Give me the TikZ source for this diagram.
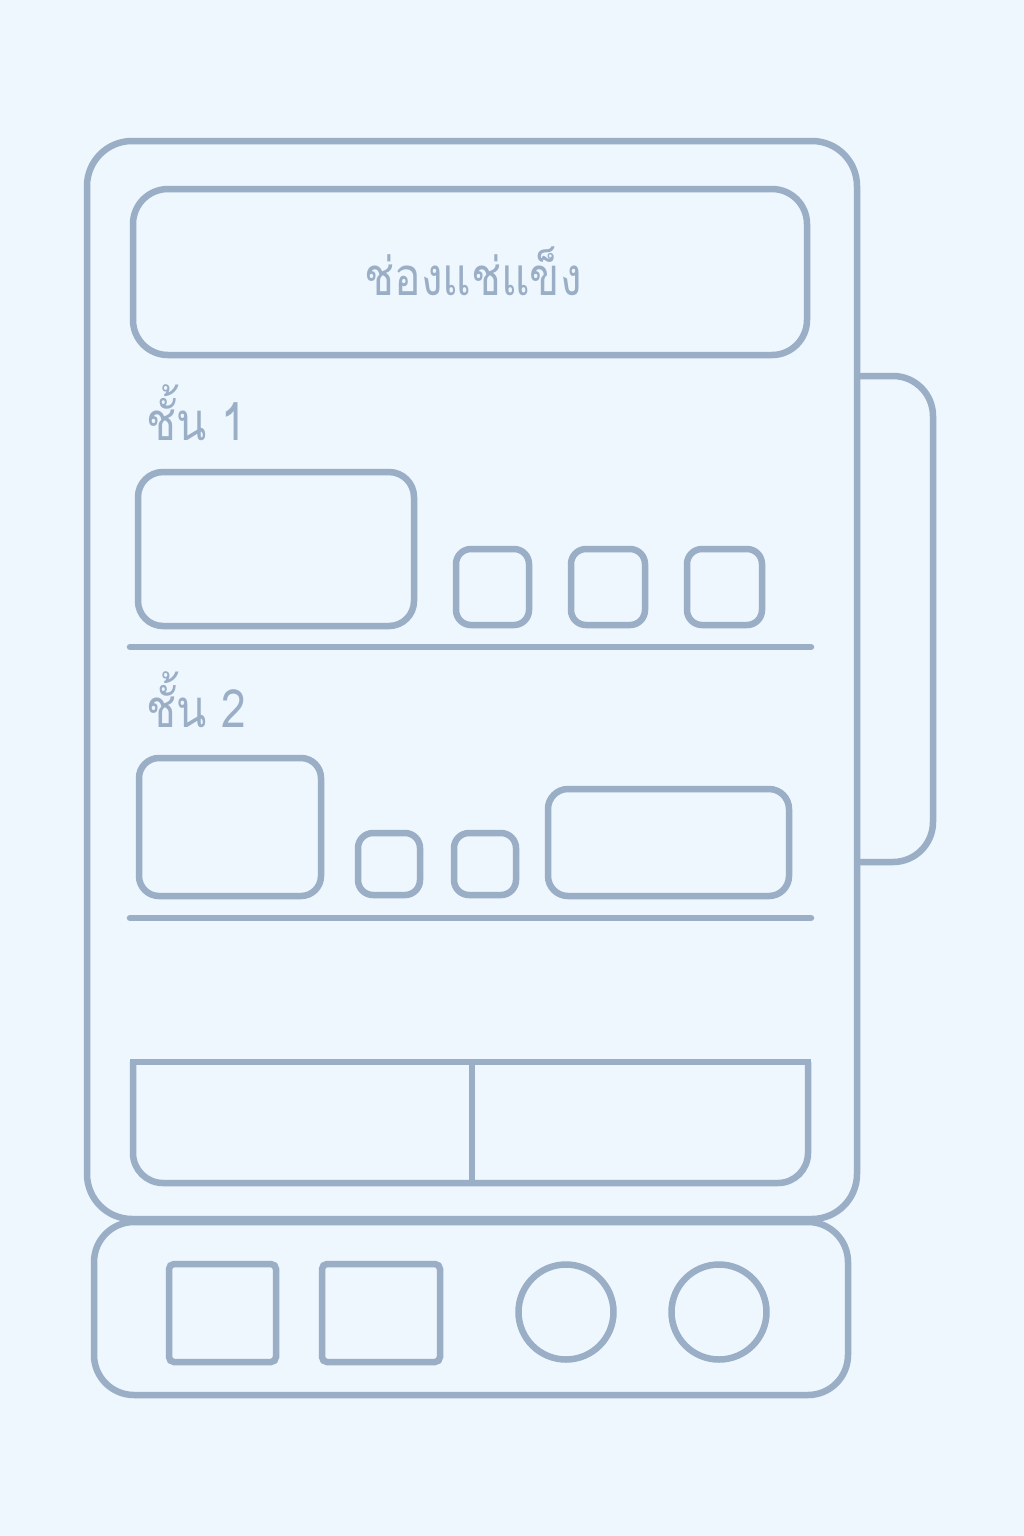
\documentclass[tikz,border=0pt]{standalone}
\usepackage{fontspec}
\newfontfamily\thaifont[Script=Thai]{Loma}
\definecolor{bgblue}{HTML}{EEF6FE}
\definecolor{edge}{HTML}{9AAEC6}

\begin{document}
\begin{tikzpicture}[x=0.1mm, y=-0.1mm, line width=0.65mm,
    part/.style={draw=edge, rounded corners=#1},
    part/.default=2mm,
    label/.style={text=edge, font=\thaifont\fontsize{15}{18}\selectfont, inner sep=0pt, xscale=0.84}]
        \fill[bgblue] (0,0) rectangle (1024,1536);
        % body, handle, base
        \draw[part=4mm] (94,1222) rectangle (848,1395);
        \draw[part=4.5mm] (87,141) rectangle (857,1219);
        \draw[part=4mm] (857,376) -- (933,376) -- (933,862) -- (857,862);
        % freezer
        \draw[part=3.5mm] (133,189) rectangle (807,355);
        \node[label, anchor=base] (frz) at (473,295) {ช่องแช่แข็ง};
        % shelf 1
        \node[label, anchor=base west] (tier1) at (144,440) {ชั้น 1};
        \draw[part=2.5mm] (138,472) rectangle (414,626);
        \draw[part=1.5mm] (456,549) rectangle (529,625);
        \draw[part=1.5mm] (571,549) rectangle (645,625);
        \draw[part=1.5mm] (687,549) rectangle (762,625);
        \draw[edge, line cap=round] (130,647) -- (811,647);
        % shelf 2
        \node[label, anchor=base west] (tier2) at (144,727) {ชั้น 2};
        \draw[part=2mm] (139,758) rectangle (321,896);
        \draw[part=1.5mm] (358,833) rectangle (420,895);
        \draw[part=1.5mm] (454,833) rectangle (516,895);
        \draw[part=2mm] (548,789) rectangle (789,896);
        \draw[edge, line cap=round] (130,918) -- (811,918);
        % drawer
        \draw[part=3mm] (133,1062) -- (133,1183) -- (808,1183) -- (808,1062);
        \draw[edge, line cap=rect] (133,1062) -- (808,1062);
        \draw[edge] (472,1062) -- (472,1183);
        % controls
        \draw[part=0.5mm] (169,1264) rectangle (276,1362);
        \draw[part=0.5mm] (322,1264) rectangle (440,1362);
        \draw[edge] (566,1312) circle (4.75mm);
        \draw[edge] (719,1312) circle (4.75mm);
    \end{tikzpicture}
\end{document}
